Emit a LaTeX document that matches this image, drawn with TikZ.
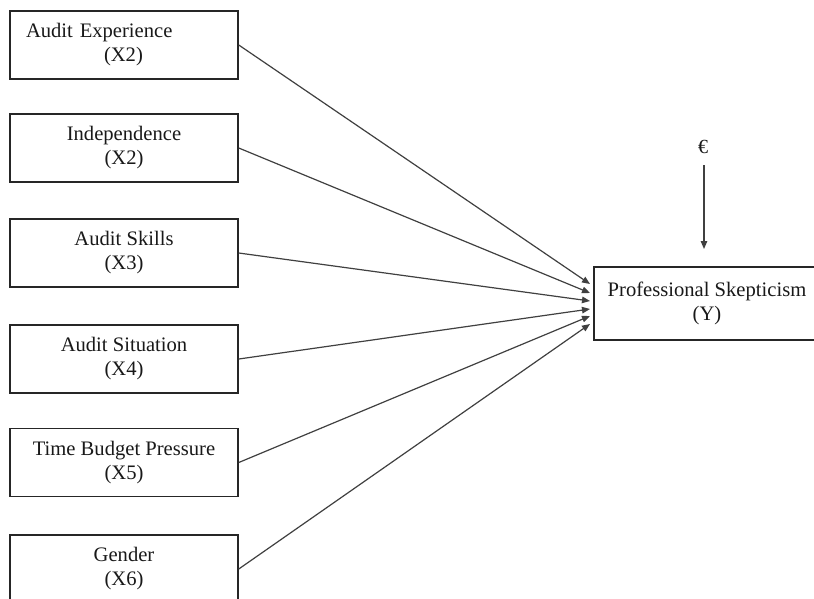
\documentclass[tikz,border=0pt]{standalone}
\usepackage{fontspec}
\setmainfont{Liberation Serif}
\usetikzlibrary{arrows.meta}
\begin{document}
\begin{tikzpicture}[x=1pt,y=-1pt,
  box/.style={draw=black!85, line width=1.5pt, rectangle, minimum width=228pt,
    minimum height=68pt, inner sep=0pt, align=center, text=black!90,
    font=\fontsize{20.6}{24}\selectfont},
  link/.style={draw=black!75, line width=1.2pt, -{Triangle[length=8pt,width=6.5pt]}}]
\useasboundingbox (0,0) rectangle (814,598);
\fill[white] (0,0) rectangle (814,598);
\clip (0,0) rectangle (814,598);

\node[box, align=left, text width=196pt] (b1) at (124,45) {Audit Experience\\\hspace*{78pt}(X2)};
\node[box] (b2) at (124,148) {Independence\\(X2)};
\node[box] (b3) at (124,253) {Audit Skills\\(X3)};
\node[box] (b4) at (124,359) {Audit Situation\\(X4)};
\node[box] (b5) at (124,462.5) {Time Budget Pressure\\(X5)};
\node[box] (b6) at (124,569) {Gender\\(X6)};

\node[box, minimum width=226pt, minimum height=73pt] (Y) at (707,303.5) {Professional Skepticism\\(Y)};

\node[font=\fontsize{20}{22}\selectfont, text=black!90, inner sep=0pt] (eps) at (703,147) {€};
\coordinate (e0) at (704,165);
\coordinate (e1) at (704,249);
\draw[link] (e0) -- (e1);

\coordinate (t1) at (590,284);
\coordinate (t2) at (590,293);
\coordinate (t3) at (590,301);
\coordinate (t4) at (590,309);
\coordinate (t5) at (590,316);
\coordinate (t6) at (590,324);

\draw[link] (b1.east) -- (t1);
\draw[link] (b2.east) -- (t2);
\draw[link] (b3.east) -- (t3);
\draw[link] (b4.east) -- (t4);
\draw[link] (b5.east) -- (t5);
\draw[link] (b6.east) -- (t6);
\end{tikzpicture}
\end{document}
